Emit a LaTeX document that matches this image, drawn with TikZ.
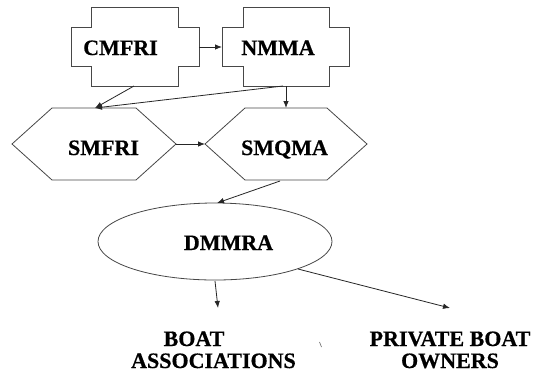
\documentclass[tikz,border=0pt]{standalone}
\usepackage{fontspec}
\newfontfamily\lblfont{LiberationSerif-Bold.ttf}[FakeBold=0.5]
\usetikzlibrary{arrows.meta}
\begin{document}
\begin{tikzpicture}[x=1bp,y=-1bp,
  shapeline/.style={draw=black!72, line width=0.8bp},
  conn/.style={draw=black!85, line width=0.8bp, -{Latex[length=7bp,width=5.5bp]}},
  lbl/.style={font=\lblfont\fontsize{22bp}{24bp}\selectfont, anchor=base, inner sep=0pt}]
\useasboundingbox (0,0) rectangle (539,376);
\fill[white] (0,0) rectangle (539,376);

% CMFRI cross box
\draw[shapeline] (91,7) -- (178,7) -- (178,27) -- (199,27) -- (199,66) -- (178,66) -- (178,86)
  -- (91,86) -- (91,66) -- (71,66) -- (71,27) -- (91,27) -- cycle;
% NMMA cross box
\draw[shapeline] (243,7) -- (329,7) -- (329,27) -- (349,27) -- (349,66) -- (329,66) -- (329,86)
  -- (243,86) -- (243,66) -- (222,66) -- (222,27) -- (243,27) -- cycle;
% SMFRI hexagon
\draw[shapeline] (12,144) -- (52,108) -- (136,108) -- (176,144) -- (136,180) -- (52,180) -- cycle;
% SMQMA hexagon
\draw[shapeline] (205,144) -- (245,108) -- (327,108) -- (367,144) -- (327,180) -- (245,180) -- cycle;
% DMMRA ellipse
\draw[shapeline] (215,241.5) ellipse [x radius=117, y radius=38.5];

% labels
\node[lbl] (cmfri) at (120.5,55) {CMFRI};
\node[lbl] (nmma) at (278,55) {NMMA};
\node[lbl] (smfri) at (103.5,155) {SMFRI};
\node[lbl] (smqma) at (284.5,155) {SMQMA};
\node[lbl] (dmmra) at (228.5,250) {DMMRA};
\node[lbl] (boat1) at (194,346) {BOAT};
\node[lbl] (boat2) at (213.5,368) {ASSOCIATIONS};
\node[lbl] (priv1) at (450,346) {PRIVATE BOAT};
\node[lbl] (priv2) at (450,368) {OWNERS};

% attachment points
\coordinate (cmE) at (199,47);
\coordinate (nmW) at (222,47);
\coordinate (cmS) at (134,86);
\coordinate (nmS1) at (283,86);
\coordinate (nmS2) at (286,86);
\coordinate (sfN) at (95,108);
\coordinate (sqN) at (286,108);
\coordinate (sfE) at (176,144);
\coordinate (sqW) at (205,144);
\coordinate (sqS) at (280,181);
\coordinate (dmN) at (217,203);
\coordinate (dmS) at (215,281);
\coordinate (dmE) at (298,269);
\coordinate (boatT) at (218,308);
\coordinate (privT) at (450,308);

% connectors
\draw[conn] (cmE) -- (nmW);
\draw[conn] (cmS) -- (sfN);
\draw[conn] (nmS1) -- (sfN);
\draw[conn] (nmS2) -- (sqN);
\draw[conn] (sfE) -- (sqW);
\draw[conn] (sqS) -- (dmN);
\draw[conn] (dmS) -- (boatT);
\draw[conn] (dmE) -- (privT);

% stray mark
\coordinate (tickA) at (319.5,342);
\coordinate (tickB) at (321.5,347);
\draw[black!60, line width=0.6bp] (tickA) -- (tickB);
\end{tikzpicture}
\end{document}
